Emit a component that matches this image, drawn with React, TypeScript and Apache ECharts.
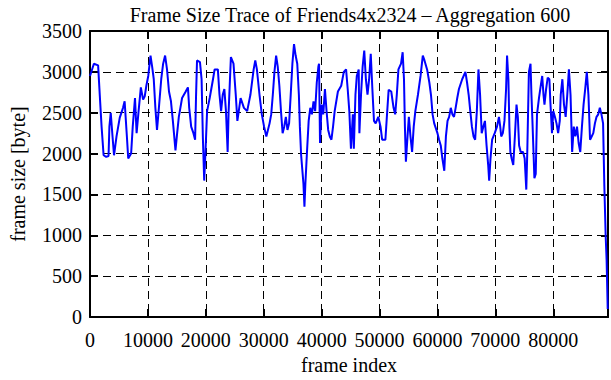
import React, { useEffect, useRef } from "react";
import * as echarts from "echarts";

const titleText = "Frame Size Trace of Friends4x2324 – Aggregation 600";
const xName = "frame index";
const yName = "frame size [byte]";
const yTicks = [0, 500, 1000, 1500, 2000, 2500, 3000, 3500];
const xTicks = [0, 10000, 20000, 30000, 40000, 50000, 60000, 70000, 80000];

const frames = [
  0, 670, 1400, 1700, 2000, 2350, 2800, 3200, 3350, 3580, 3900, 4150, 4580, 5140, 5700, 5980, 6370, 6600, 7100, 7380,
  7770, 8050, 8390, 8780, 9170, 9450, 9730, 10060, 10450, 10730, 11010, 11290, 11570, 11850, 12300, 12630, 12970, 13300, 13640, 13980,
  14310, 14760, 15050, 15340, 15900, 16460, 16910, 17130, 17470, 17860, 18150, 18310, 18480, 18990, 19270, 19490, 19720, 19940, 20220, 20670,
  21240, 21520, 22080, 22360, 22640, 22920, 23200, 23480, 23770, 23930, 24330, 24780, 25170, 25450, 26010, 26580, 27140, 27700, 28260, 28540,
  28820, 29270, 29670, 30060, 30450, 31010, 31290, 31570, 31850, 32140, 32420, 32700, 32980, 33260, 33540, 33820, 34100, 34380, 34660, 34950,
  35230, 35510, 35790, 36070, 36240, 36460, 36630, 36860, 37030, 37190, 37470, 37760, 38040, 38320, 38600, 38880, 39160, 39440, 39550, 39720,
  40000, 40280, 40570, 40850, 41130, 41410, 41690, 41970, 42250, 42810, 43380, 43830, 44220, 44500, 44780, 45060, 45390, 45560, 45840, 46070,
  46400, 46520, 46800, 47080, 47360, 47640, 47920, 48200, 48480, 48760, 49040, 49330, 49780, 50170, 50450, 51010, 51290, 51570, 52020, 52420,
  52700, 52980, 53260, 53710, 53990, 54220, 54380, 54550, 54830, 55060, 55340, 55620, 55900, 56180, 56630, 57080, 57470, 57760, 58210, 58600,
  58880, 59160, 59440, 60000, 60280, 60570, 60850, 61180, 61460, 61740, 62020, 62300, 62580, 62860, 63140, 63420, 63710, 64270, 64830, 65110,
  65390, 65670, 65950, 66230, 66510, 66800, 67080, 67360, 67640, 67920, 68200, 68480, 68760, 68930, 69160, 69440, 69890, 70280, 70620, 70840,
  71010, 71290, 71570, 71850, 72020, 72250, 72420, 72590, 72810, 73090, 73370, 73650, 73880, 74100, 74380, 74780, 75060, 75340, 75510, 75790,
  76070, 76230, 76400, 76740, 76970, 77080, 77190, 77530, 77750, 78090, 78310, 78480, 78760, 79040, 79330, 79490, 79780, 80000, 80280, 80560,
  80840, 81120, 81290, 81570, 81850, 82140, 82420, 82700, 82980, 83260, 83540, 83820, 84100, 84380, 84660, 84950, 85230, 85510, 85790, 86070,
  86350, 86630, 86910, 87190, 87470, 87760, 88040, 88320, 88600, 88820, 89050, 89210, 89400,
];

const sizes = [
  2950, 3100, 3080, 2700, 2330, 1980, 1960, 1970, 2330, 2500, 2200, 1980, 2210, 2440, 2560, 2640, 2210, 1940, 2000, 2330,
  2680, 2250, 2520, 2810, 2660, 2700, 2830, 2950, 3200, 3065, 2910, 2560, 2290, 2520, 2910, 3100, 3200, 3030, 2760, 2640,
  2400, 2040, 2250, 2450, 2680, 2750, 2810, 2560, 2330, 2250, 2170, 2700, 3140, 3120, 2910, 2200, 1670, 2020, 2520, 2680,
  2910, 3030, 3030, 2720, 2520, 2720, 2790, 2520, 2020, 2500, 3180, 3100, 2720, 2400, 2680, 2560, 2520, 2720, 3030, 3140,
  3030, 2720, 2480, 2330, 2210, 2370, 2480, 2720, 3000, 3200, 3065, 2830, 2520, 2250, 2330, 2450, 2290, 2370, 2720, 3100,
  3340, 3200, 3100, 2720, 2330, 1980, 1830, 1630, 1350, 1630, 2020, 2400, 2560, 2480, 2640, 2520, 2870, 3065, 3100, 2130,
  2600, 2480, 2790, 2520, 2290, 2210, 2170, 2330, 2520, 2760, 2830, 3000, 3030, 2790, 2520, 2060, 2480, 2060, 2720, 2950,
  3030, 2250, 2720, 3065, 3260, 2910, 2720, 2910, 3220, 2790, 2400, 2370, 2450, 2330, 2170, 2170, 2480, 2780, 2760, 2560,
  2480, 2720, 3030, 3100, 3240, 2910, 2330, 1900, 2210, 2450, 2210, 2020, 2330, 2520, 2720, 2950, 3200, 3140, 3030, 2870,
  2720, 2480, 2370, 2250, 2170, 2100, 1940, 1790, 2210, 2400, 2450, 2560, 2480, 2450, 2560, 2680, 2790, 2910, 3000, 2870,
  2720, 2520, 2330, 2210, 2170, 2520, 3030, 2720, 2250, 2330, 2400, 2100, 1860, 1670, 1940, 2170, 2250, 2330, 2450, 2330,
  2210, 2250, 2400, 2790, 3200, 2910, 2330, 2020, 1940, 1860, 2210, 2600, 2450, 2100, 2020, 2020, 1940, 1560, 2020, 3000,
  3100, 2720, 2400, 1700, 1750, 2130, 2480, 2680, 2790, 2950, 2720, 2600, 2790, 2930, 2910, 2640, 2250, 2520, 2450, 2370,
  2250, 2400, 2720, 2910, 2600, 2450, 2720, 3030, 2720, 2020, 2330, 2210, 2330, 2130, 2020, 2330, 2600, 2790, 3000, 2720,
  2170, 2210, 2250, 2370, 2450, 2480, 2560, 2480, 2370, 1600, 990, 700, 100,
];

const X_MAX = 89450;
const FONT = "'Liberation Serif', 'Times New Roman', serif";

export default function App() {
  const ref = useRef<HTMLDivElement>(null);
  useEffect(() => {
    if (!ref.current) return;
    const chart = echarts.init(ref.current, undefined, { renderer: "svg" });
    const data = frames.map((f, i) => [f, sizes[i]]);
    const txt = { fontFamily: FONT, fontSize: 20, color: "#000" };
    const axisLine = { show: true, onZero: false, lineStyle: { color: "#000", width: 2 } };
    const tick = { show: true, inside: true, length: 8, lineStyle: { color: "#000", width: 2 } };
    const split = { show: true, lineStyle: { color: "#000", width: 1, type: [8, 5] as any } };
    chart.setOption({
      animation: false,
      backgroundColor: "#fff",
      title: {
        text: titleText,
        left: 345,
        top: 0,
        textAlign: "center",
        textStyle: { ...txt, fontWeight: "normal" },
      },
      grid: { left: 80, right: 3, top: 31, bottom: 47 },
      xAxis: [
        {
          type: "value",
          position: "bottom",
          min: 0,
          max: X_MAX,
          interval: 10000,
          name: xName,
          nameLocation: "middle",
          nameGap: 34,
          nameTextStyle: txt,
          axisLine,
          axisTick: tick,
          splitLine: split,
          axisLabel: {
            ...txt,
            margin: 13,
            formatter: (v: number) => (xTicks.includes(v) ? String(v) : ""),
          },
        },
        {
          type: "value",
          position: "top",
          min: 0,
          max: X_MAX,
          interval: 10000,
          axisLine,
          axisTick: tick,
          splitLine: { show: false },
          axisLabel: { show: false },
        },
      ],
      yAxis: [
        {
          type: "value",
          position: "left",
          min: 0,
          max: 3500,
          interval: 500,
          name: yName,
          nameLocation: "middle",
          nameGap: 62,
          nameTextStyle: txt,
          axisLine,
          axisTick: tick,
          splitLine: split,
          axisLabel: {
            ...txt,
            margin: 8,
            formatter: (v: number) => (yTicks.includes(v) ? String(v) : ""),
          },
        },
        {
          type: "value",
          position: "right",
          min: 0,
          max: 3500,
          interval: 500,
          axisLine,
          axisTick: { ...tick, length: 7 },
          splitLine: { show: false },
          axisLabel: { show: false },
        },
      ],
      series: [
        {
          type: "line",
          data,
          xAxisIndex: 0,
          yAxisIndex: 0,
          showSymbol: false,
          symbol: "none",
          lineStyle: { color: "#0000ff", width: 2 },
          clip: true,
        },
      ],
    });
    return () => chart.dispose();
  }, []);
  return (
    <div
      ref={ref}
      style={{ position: "absolute", left: 0, top: 0, width: 611, height: 380, background: "#fff" }}
    />
  );
}
